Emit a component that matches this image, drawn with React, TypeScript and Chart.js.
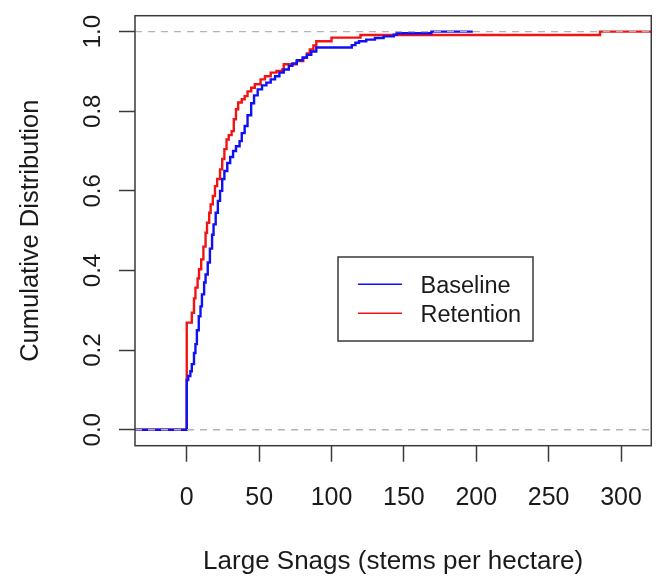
import React, { useEffect, useRef } from "react";
import { Chart, registerables } from "chart.js";

Chart.register(...registerables);

// ---- data ----
const xTicks = [0, 50, 100, 150, 200, 250, 300];
const yTicks = [0, 0.2, 0.4, 0.6, 0.8, 1.0];
const yTickLabels = ["0.0", "0.2", "0.4", "0.6", "0.8", "1.0"];
const xTitle = "Large Snags (stems per hectare)";
const yTitle = "Cumulative Distribution";
const seriesNames = ["Baseline", "Retention"];
const seriesColors = ["#1010f5", "#f01515"];
const refLevels = [0, 1];

// ECDF steps: value from which the level holds, and the level
const baselineX = [-40, 0, 1, 2.5, 3.5, 5, 6, 7, 8.3, 9.5, 10.5, 12, 13, 14.5, 16, 17.5, 18.5, 20, 21.5, 23, 24.5, 26, 28, 30, 32, 34, 36.5, 38, 40, 42, 44.5, 46.5, 49, 52, 55, 58, 61, 64, 67, 70.5, 73, 76, 80, 83, 86, 89.5, 114, 116.5, 119, 124, 130, 136, 143, 145, 169, 197.6];
const baselineP = [0, 0.125, 0.135, 0.147, 0.165, 0.193, 0.215, 0.25, 0.285, 0.31, 0.34, 0.37, 0.39, 0.42, 0.455, 0.49, 0.516, 0.545, 0.575, 0.6, 0.63, 0.65, 0.67, 0.685, 0.7, 0.712, 0.725, 0.745, 0.763, 0.79, 0.82, 0.84, 0.855, 0.865, 0.872, 0.88, 0.888, 0.897, 0.905, 0.914, 0.92, 0.928, 0.935, 0.942, 0.95, 0.96, 0.966, 0.972, 0.976, 0.98, 0.984, 0.988, 0.992, 0.996, 1.0, 1.0];

const retentionX = [-40, 0, 3.5, 5, 6, 7.5, 8.5, 10, 11.5, 13, 14, 15.5, 16.5, 18, 19.5, 21, 23, 24.5, 26, 27.5, 29, 31, 32.5, 34, 35.5, 38, 40, 42, 44.5, 47, 51, 54, 58, 62, 66, 67, 76, 80.5, 83, 85, 87.5, 89.5, 100, 120, 285.5, 340];
const retentionP = [0, 0.269, 0.294, 0.33, 0.357, 0.38, 0.403, 0.428, 0.46, 0.495, 0.52, 0.545, 0.566, 0.587, 0.612, 0.63, 0.654, 0.68, 0.705, 0.729, 0.74, 0.75, 0.78, 0.805, 0.822, 0.83, 0.838, 0.85, 0.859, 0.868, 0.88, 0.888, 0.897, 0.901, 0.905, 0.918, 0.926, 0.934, 0.945, 0.955, 0.965, 0.976, 0.985, 0.9915, 1.0, 1.0];

const xRange = [-35.75, 320.9];
const yRange = [-0.04, 1.04];

const FONT = "'Liberation Sans', Arial, sans-serif";
const TEXT = "#1a1a1a";
const FRAME = "#3a3a3a";

const toPoints = (xs: number[], ps: number[]) => xs.map((x, i) => ({ x, y: ps[i] }));

const rFrame = {
  id: "rFrame",
  afterDraw(chart: any) {
    const { ctx, chartArea: a, scales } = chart;
    const ys = scales.y;
    ctx.save();
    // plot box
    ctx.strokeStyle = FRAME;
    ctx.lineWidth = 1.5;
    ctx.strokeRect(a.left, a.top, a.right - a.left, a.bottom - a.top);

    // y tick labels (rotated, R style)
    ctx.fillStyle = TEXT;
    ctx.font = `24px ${FONT}`;
    ctx.textAlign = "center";
    ctx.textBaseline = "alphabetic";
    yTicks.forEach((v, i) => {
      const py = ys.getPixelForValue(v);
      ctx.save();
      ctx.translate(100, py);
      ctx.rotate(-Math.PI / 2);
      ctx.fillText(yTickLabels[i], 0, 0);
      ctx.restore();
    });

    // y title
    ctx.font = `25.5px ${FONT}`;
    ctx.save();
    ctx.translate(37.5, (a.top + a.bottom) / 2);
    ctx.rotate(-Math.PI / 2);
    ctx.fillText(yTitle, 0, 0);
    ctx.restore();

    // x title
    ctx.font = `26px ${FONT}`;
    ctx.fillText(xTitle, (a.left + a.right) / 2, 569);

    // legend
    const lx = 338, ly = 257, lw = 195, lh = 84;
    ctx.fillStyle = "#ffffff";
    ctx.fillRect(lx, ly, lw, lh);
    ctx.strokeStyle = FRAME;
    ctx.lineWidth = 1.5;
    ctx.strokeRect(lx, ly, lw, lh);
    ctx.font = `23.5px ${FONT}`;
    ctx.textAlign = "left";
    const legendDs = chart.data.datasets.filter((d: any) => d.inLegend);
    legendDs.forEach((d: any, i: number) => {
      const cy = 284.3 + i * 29;
      ctx.strokeStyle = d.borderColor;
      ctx.lineWidth = 1.5;
      ctx.beginPath();
      ctx.moveTo(358, cy);
      ctx.lineTo(402, cy);
      ctx.stroke();
      ctx.fillStyle = TEXT;
      ctx.fillText(d.label, 420.5, cy + 9);
    });
    ctx.restore();
  },
};

export default function App() {
  const ref = useRef<HTMLCanvasElement | null>(null);
  useEffect(() => {
    if (!ref.current) return;
    const refDatasets = refLevels.map((lv) => ({
      label: "ref" + lv,
      inLegend: false,
      data: [
        { x: xRange[0], y: lv },
        { x: xRange[1], y: lv },
      ],
      borderColor: "#b3b3b3",
      borderWidth: 1.3,
      borderDash: [7, 6],
      pointRadius: 0,
      stepped: false,
    }));
    const chart = new Chart(ref.current, {
      type: "line",
      data: {
        datasets: [
          ...refDatasets,
          {
            label: seriesNames[0],
            inLegend: true,
            data: toPoints(baselineX, baselineP),
            borderColor: seriesColors[0],
            borderWidth: 2.4,
            pointRadius: 0,
            stepped: "before",
          },
          {
            label: seriesNames[1],
            inLegend: true,
            data: toPoints(retentionX, retentionP),
            borderColor: seriesColors[1],
            borderWidth: 2.4,
            pointRadius: 0,
            stepped: "before",
          },
        ] as any,
      },
      options: {
        animation: false,
        responsive: false,
        devicePixelRatio: 1,
        layout: { padding: { top: 15.7, right: 2.3, left: 0, bottom: 0 } },
        plugins: { legend: { display: false }, tooltip: { enabled: false } },
        scales: {
          x: {
            type: "linear",
            min: xRange[0],
            max: xRange[1],
            afterFit: (s: any) => {
              s.height = 130.3;
            },
            afterBuildTicks: (s: any) => {
              s.ticks = xTicks.map((v) => ({ value: v }));
            },
            grid: {
              drawOnChartArea: false,
              drawTicks: true,
              tickLength: 16,
              tickColor: FRAME,
              tickWidth: 1.5,
            },
            border: { display: false },
            ticks: {
              font: { family: FONT, size: 25 },
              color: TEXT,
              padding: 21,
              maxRotation: 0,
              autoSkip: false,
              callback: (v: any) => String(v),
            },
          },
          y: {
            type: "linear",
            min: yRange[0],
            max: yRange[1],
            afterFit: (s: any) => {
              s.width = 135;
            },
            afterBuildTicks: (s: any) => {
              s.ticks = yTicks.map((v) => ({ value: v }));
            },
            grid: {
              drawOnChartArea: false,
              drawTicks: true,
              tickLength: 16,
              tickColor: FRAME,
              tickWidth: 1.5,
            },
            border: { display: false },
            ticks: { display: false },
          },
        },
      } as any,
      plugins: [rFrame],
    });
    return () => chart.destroy();
  }, []);
  return (
    <div style={{ position: "absolute", left: 0, top: 0, width: 663, height: 576, background: "#fff" }}>
      <canvas ref={ref} width={663} height={576} style={{ display: "block" }} />
    </div>
  );
}
